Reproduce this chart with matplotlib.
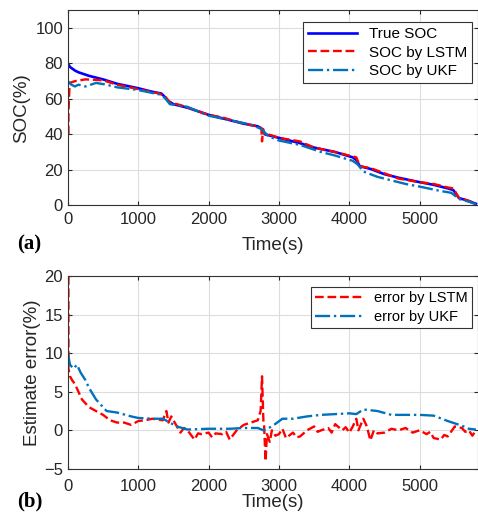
import matplotlib.pyplot as plt

# --- top panel: SOC curves ---
t_true = [0, 30, 100, 150, 300, 500, 700, 1000, 1200, 1330, 1380, 1420, 1500, 1700, 2000, 2300,
          2500, 2700, 2760, 2800, 3000, 3300, 3500, 3800, 4050, 4100, 4150, 4300, 4500, 4700,
          5000, 5200, 5400, 5480, 5560, 5650, 5800]
soc_true = [80, 78, 76, 75, 73, 71, 68.5, 66, 64, 63, 61, 59, 57, 55, 51, 48,
            46, 44.5, 43, 40, 38, 35, 32.5, 30, 27, 25.5, 22, 20.5, 17.5, 15.5,
            13, 11.5, 9.5, 8.5, 4, 3, 0.8]

t_lstm = [8, 8, 25, 100, 250, 500, 700, 1000, 1300, 1380, 1450, 1600, 2000, 2200, 2500, 2700,
          2750, 2760, 2775, 2790, 2850, 3000, 3300, 3500, 3800, 4050, 4100, 4150, 4300, 4500,
          4700, 5000, 5200, 5400, 5480, 5560, 5700, 5800]
soc_lstm = [40, 52, 69, 70, 71, 70.5, 68, 65.5, 63, 61.5, 58, 56.5, 51, 49.5, 46, 44.5,
            43.5, 36, 43, 40.5, 40, 38, 36, 32.5, 30, 27.5, 27, 22, 21, 18,
            15, 13, 12, 10, 9.5, 4, 2.5, 0.8]

t_ukf = [0, 50, 100, 150, 250, 400, 550, 700, 1000, 1300, 1380, 1450, 1700, 2000, 2300, 2600,
         2750, 2850, 3000, 3300, 3600, 3800, 4050, 4120, 4200, 4400, 4600, 4800, 5000, 5300,
         5450, 5560, 5700, 5800]
soc_ukf = [70, 68, 67, 68, 67, 69, 68, 66.5, 65, 62.5, 60.5, 57, 55.5, 50.5, 48, 45.5,
           43, 39, 36.5, 34, 30, 28, 25, 23, 19, 16, 14, 12, 10.5, 8,
           7, 3.5, 2, 0.5]

# --- bottom panel: estimate errors ---
t_err_lstm = [8, 8, 30, 60, 100, 150, 200, 300, 400, 500, 600, 700, 800, 900, 1000, 1100, 1200,
              1350, 1400, 1430, 1470, 1550, 1600, 1650, 1700, 1750, 1800, 1850, 1900, 2000, 2050,
              2100, 2200, 2250, 2300, 2400, 2500, 2600, 2700, 2740, 2760, 2780, 2790, 2810, 2830,
              2870, 2900, 2950, 3000, 3050, 3100, 3200, 3250, 3300, 3400, 3500, 3550, 3600, 3700,
              3750, 3800, 3900, 3950, 4000, 4050, 4100, 4130, 4200, 4250, 4300, 4350, 4400, 4500,
              4600, 4700, 4800, 4900, 5000, 5100, 5150, 5200, 5300, 5350, 5400, 5500, 5600, 5650,
              5700, 5750, 5800]
err_lstm = [20, 8, 7, 6.5, 6, 5, 4, 3, 2.5, 2, 1.3, 1, 1, 0.7, 1.2, 1.3, 1.5,
            1.3, 2.5, 1, 1.8, 0.5, -0.3, 0.3, 0, -0.6, -1.2, -0.4, -0.5, -0.3, -0.9,
            -0.4, -0.5, -0.2, -1.2, 0, 0.7, 1, 1.3, 2.5, 7, 1, 0.5, -4, -0.5,
            -1.5, 0, -0.7, -0.5, 0.2, -1, -0.3, -0.9, -0.8, 0, 0.5, -0.2, 0, 0.3,
            -0.3, 0.8, 0, 0.4, -0.3, 0.5, 1.5, 0, 1.5, 0.5, -1.3, 0, -0.4, -0.3,
            0.2, 0, 0.3, -0.3, 0, -0.5, -0.2, -1, -1.2, -0.6, -0.8, 0.5, 0.3, -0.2,
            0, -0.7, 0]

t_err_ukf = [0, 30, 80, 130, 180, 250, 300, 400, 550, 700, 900, 1000, 1200, 1350, 1450, 1550,
             1700, 2000, 2300, 2500, 2700, 2780, 2900, 3050, 3200, 3400, 3600, 3800, 4000, 4100,
             4200, 4400, 4600, 4800, 5000, 5200, 5400, 5600, 5700, 5800]
err_ukf = [10, 8.5, 8, 8.5, 7.5, 6.5, 5.5, 4, 2.5, 2.3, 1.8, 1.6, 1.5, 1.5, 1, 0.5,
           0.1, 0.2, 0.2, 0.3, 0.3, 0, 0.5, 1.5, 1.5, 1.8, 2, 2.1, 2.2, 2.1,
           2.7, 2.5, 2.0, 2.0, 2.0, 1.9, 1.2, 0.6, 0.2, 0.1]

x_ticks = [0, 1000, 2000, 3000, 4000, 5000]

BLUE = '#0000ff'
RED = '#ff0000'
UKF = '#0072bd'
TXT = '#262626'

plt.rcParams['font.family'] = ['Liberation Sans', 'DejaVu Sans']


def style_axes(ax, pad):
    ax.set_xlim(0, 5830)
    ax.set_xticks(x_ticks)
    ax.grid(True, color='#dddddd', linewidth=0.8)
    ax.set_axisbelow(True)
    ax.tick_params(direction='in', top=True, right=True, colors=TXT, labelsize=12, length=3)
    ax.tick_params(axis='x', pad=pad)
    for s in ax.spines.values():
        s.set_color('#333333')
        s.set_linewidth(0.8)


fig = plt.figure(figsize=(4.78, 5.13), dpi=100)

ax1 = fig.add_axes([0.142, 0.600, 0.858, 0.380])
ax1.plot(t_true, soc_true, color=BLUE, linewidth=1.9, label='True SOC')
ax1.plot(t_lstm, soc_lstm, color=RED, linewidth=1.7, linestyle='--', label='SOC by LSTM')
ax1.plot(t_ukf, soc_ukf, color=UKF, linewidth=1.7, linestyle='-.', label='SOC by UKF')
ax1.set_ylim(0, 110)
ax1.set_yticks([0, 20, 40, 60, 80, 100])
style_axes(ax1, 5)
ax1.set_ylabel('SOC(%)', color=TXT, fontsize=13.5, labelpad=4)
ax1.set_xlabel('Time(s)', color=TXT, fontsize=13.5, labelpad=7)
leg = ax1.legend(loc='upper right', bbox_to_anchor=(0.985, 0.938), borderaxespad=0, fontsize=11,
                 fancybox=False, edgecolor='#333333', framealpha=1, handlelength=3.2,
                 borderpad=0.3, labelspacing=0.3)
leg.get_frame().set_linewidth(0.8)
fig.text(0.035, 0.514, '(a)', family='Liberation Serif', fontweight='bold', fontsize=15)

ax2 = fig.add_axes([0.142, 0.086, 0.858, 0.376])
ax2.plot(t_err_lstm, err_lstm, color=RED, linewidth=1.7, linestyle='--', label='error by LSTM')
ax2.plot(t_err_ukf, err_ukf, color=UKF, linewidth=1.7, linestyle='-.', label='error by UKF')
ax2.set_ylim(-5, 20)
ax2.set_yticks([-5, 0, 5, 10, 15, 20])
style_axes(ax2, 7)
ax2.set_ylabel('Estimate error(%)', color=TXT, fontsize=13.5, labelpad=2)
ax2.set_xlabel('Time(s)', color=TXT, fontsize=13.5, labelpad=0)
leg2 = ax2.legend(loc='upper right', bbox_to_anchor=(0.985, 0.943), borderaxespad=0, fontsize=10.5,
                  fancybox=False, edgecolor='#333333', framealpha=1, handlelength=3.2,
                  borderpad=0.3, labelspacing=0.3)
leg2.get_frame().set_linewidth(0.8)
fig.text(0.035, 0.012, '(b)', family='Liberation Serif', fontweight='bold', fontsize=15)

fig.savefig('out.png', dpi=100)
